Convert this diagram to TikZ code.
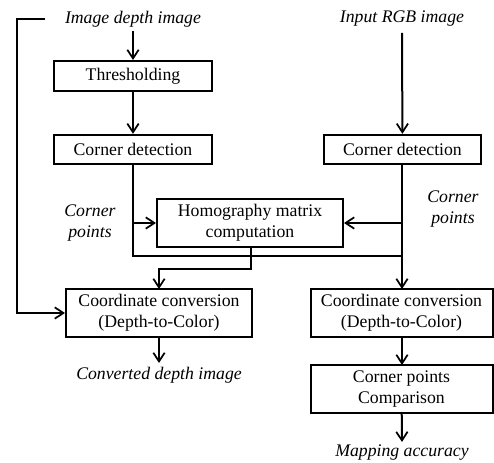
\documentclass[tikz,border=0pt]{standalone}
\usepackage{fontspec}
\setmainfont{Liberation Serif}
\usetikzlibrary{arrows.meta}
\begin{document}
\begin{tikzpicture}[x=0.75pt,y=-0.75pt,line width=1.5pt,
  box/.style={draw,inner sep=0pt,align=center,font=\fontsize{13.3}{16}\selectfont},
  lbl/.style={inner sep=0pt,align=center,font=\fontsize{13.3}{16}\selectfont\itshape},
  flow/.style={-{Straight Barb[length=6.5pt,width=8.5pt,line width=1.3pt]}}]
\useasboundingbox (0,0) rectangle (494,463);

% inputs
\node[lbl] (din) at (133,19) {Image depth image};
\node[lbl] (rgb) at (402,19) {Input RGB image};

% processing boxes
\node[box,minimum width=118.5pt,minimum height=22.5pt] (thresh) at (133,76) {Thresholding};
\node[box,minimum width=118.5pt,minimum height=22pt] (cdL) at (133,149.5) {Corner detection};
\node[box,minimum width=117.75pt,minimum height=22pt] (cdR) at (402.5,149.5) {Corner detection};
\node[box,minimum width=139.5pt,minimum height=36pt] (homo) at (250,223) {Homography matrix\\computation};
\node[box,minimum width=139.5pt,minimum height=36pt] (ccL) at (159,313) {Coordinate conversion\\(Depth-to-Color)};
\node[box,minimum width=136.5pt,minimum height=36pt] (ccR) at (401.5,313) {Coordinate conversion\\(Depth-to-Color)};
\node[box,minimum width=136.5pt,minimum height=36pt] (cmp) at (401.5,389) {Corner points\\Comparison};

% outputs and side labels
\node[lbl] (conv) at (159,375) {Converted depth image};
\node[lbl] (acc) at (402,453) {Mapping accuracy};
\node[lbl] (cpL) at (90,223) {Corner\\points};
\node[lbl] (cpR) at (453,209) {Corner\\points};

% routing points
\coordinate (fbs) at (45,19);
\coordinate (fbc) at (17,19);
\coordinate (rgbs) at (402,33);
\coordinate (dins) at (133,31);
\coordinate (lcol) at (133,256);
\coordinate (lbr) at (133,223);
\coordinate (rmerge) at (402,256);
\coordinate (rbr) at (402,223);
\coordinate (hdown) at (251,247);
\coordinate (hturn) at (251,269);
\coordinate (hleft) at (159,269);
\coordinate (ccLtop) at (159,289);
\coordinate (ccRtop) at (402,289);
\coordinate (ccRbot) at (402,337);
\coordinate (cmptop) at (402,365);
\coordinate (cdRbot) at (402,164);
\coordinate (convtop) at (159,363);
\coordinate (acctop) at (402,442);

% connectors
\draw[flow] (dins) -- (thresh);
\draw[flow] (thresh) -- (cdL);
\draw[flow] (rgbs) -- (cdR);
\draw[flow] (fbs) -- (fbc) |- (ccL.west);
\draw (cdL.south) -- (lcol) -- (rmerge);
\draw[flow] (lbr) -- (homo.west);
\draw[flow] (cdRbot) -- (ccRtop);
\draw[flow] (rbr) -- (homo.east);
\draw[flow] (hdown) -- (hturn) -- (hleft) -- (ccLtop);
\draw[flow] (ccL.south) -- (convtop);
\draw[flow] (ccRbot) -- (cmptop);
\draw[flow] (cmp) -- (acctop);
\end{tikzpicture}
\end{document}
